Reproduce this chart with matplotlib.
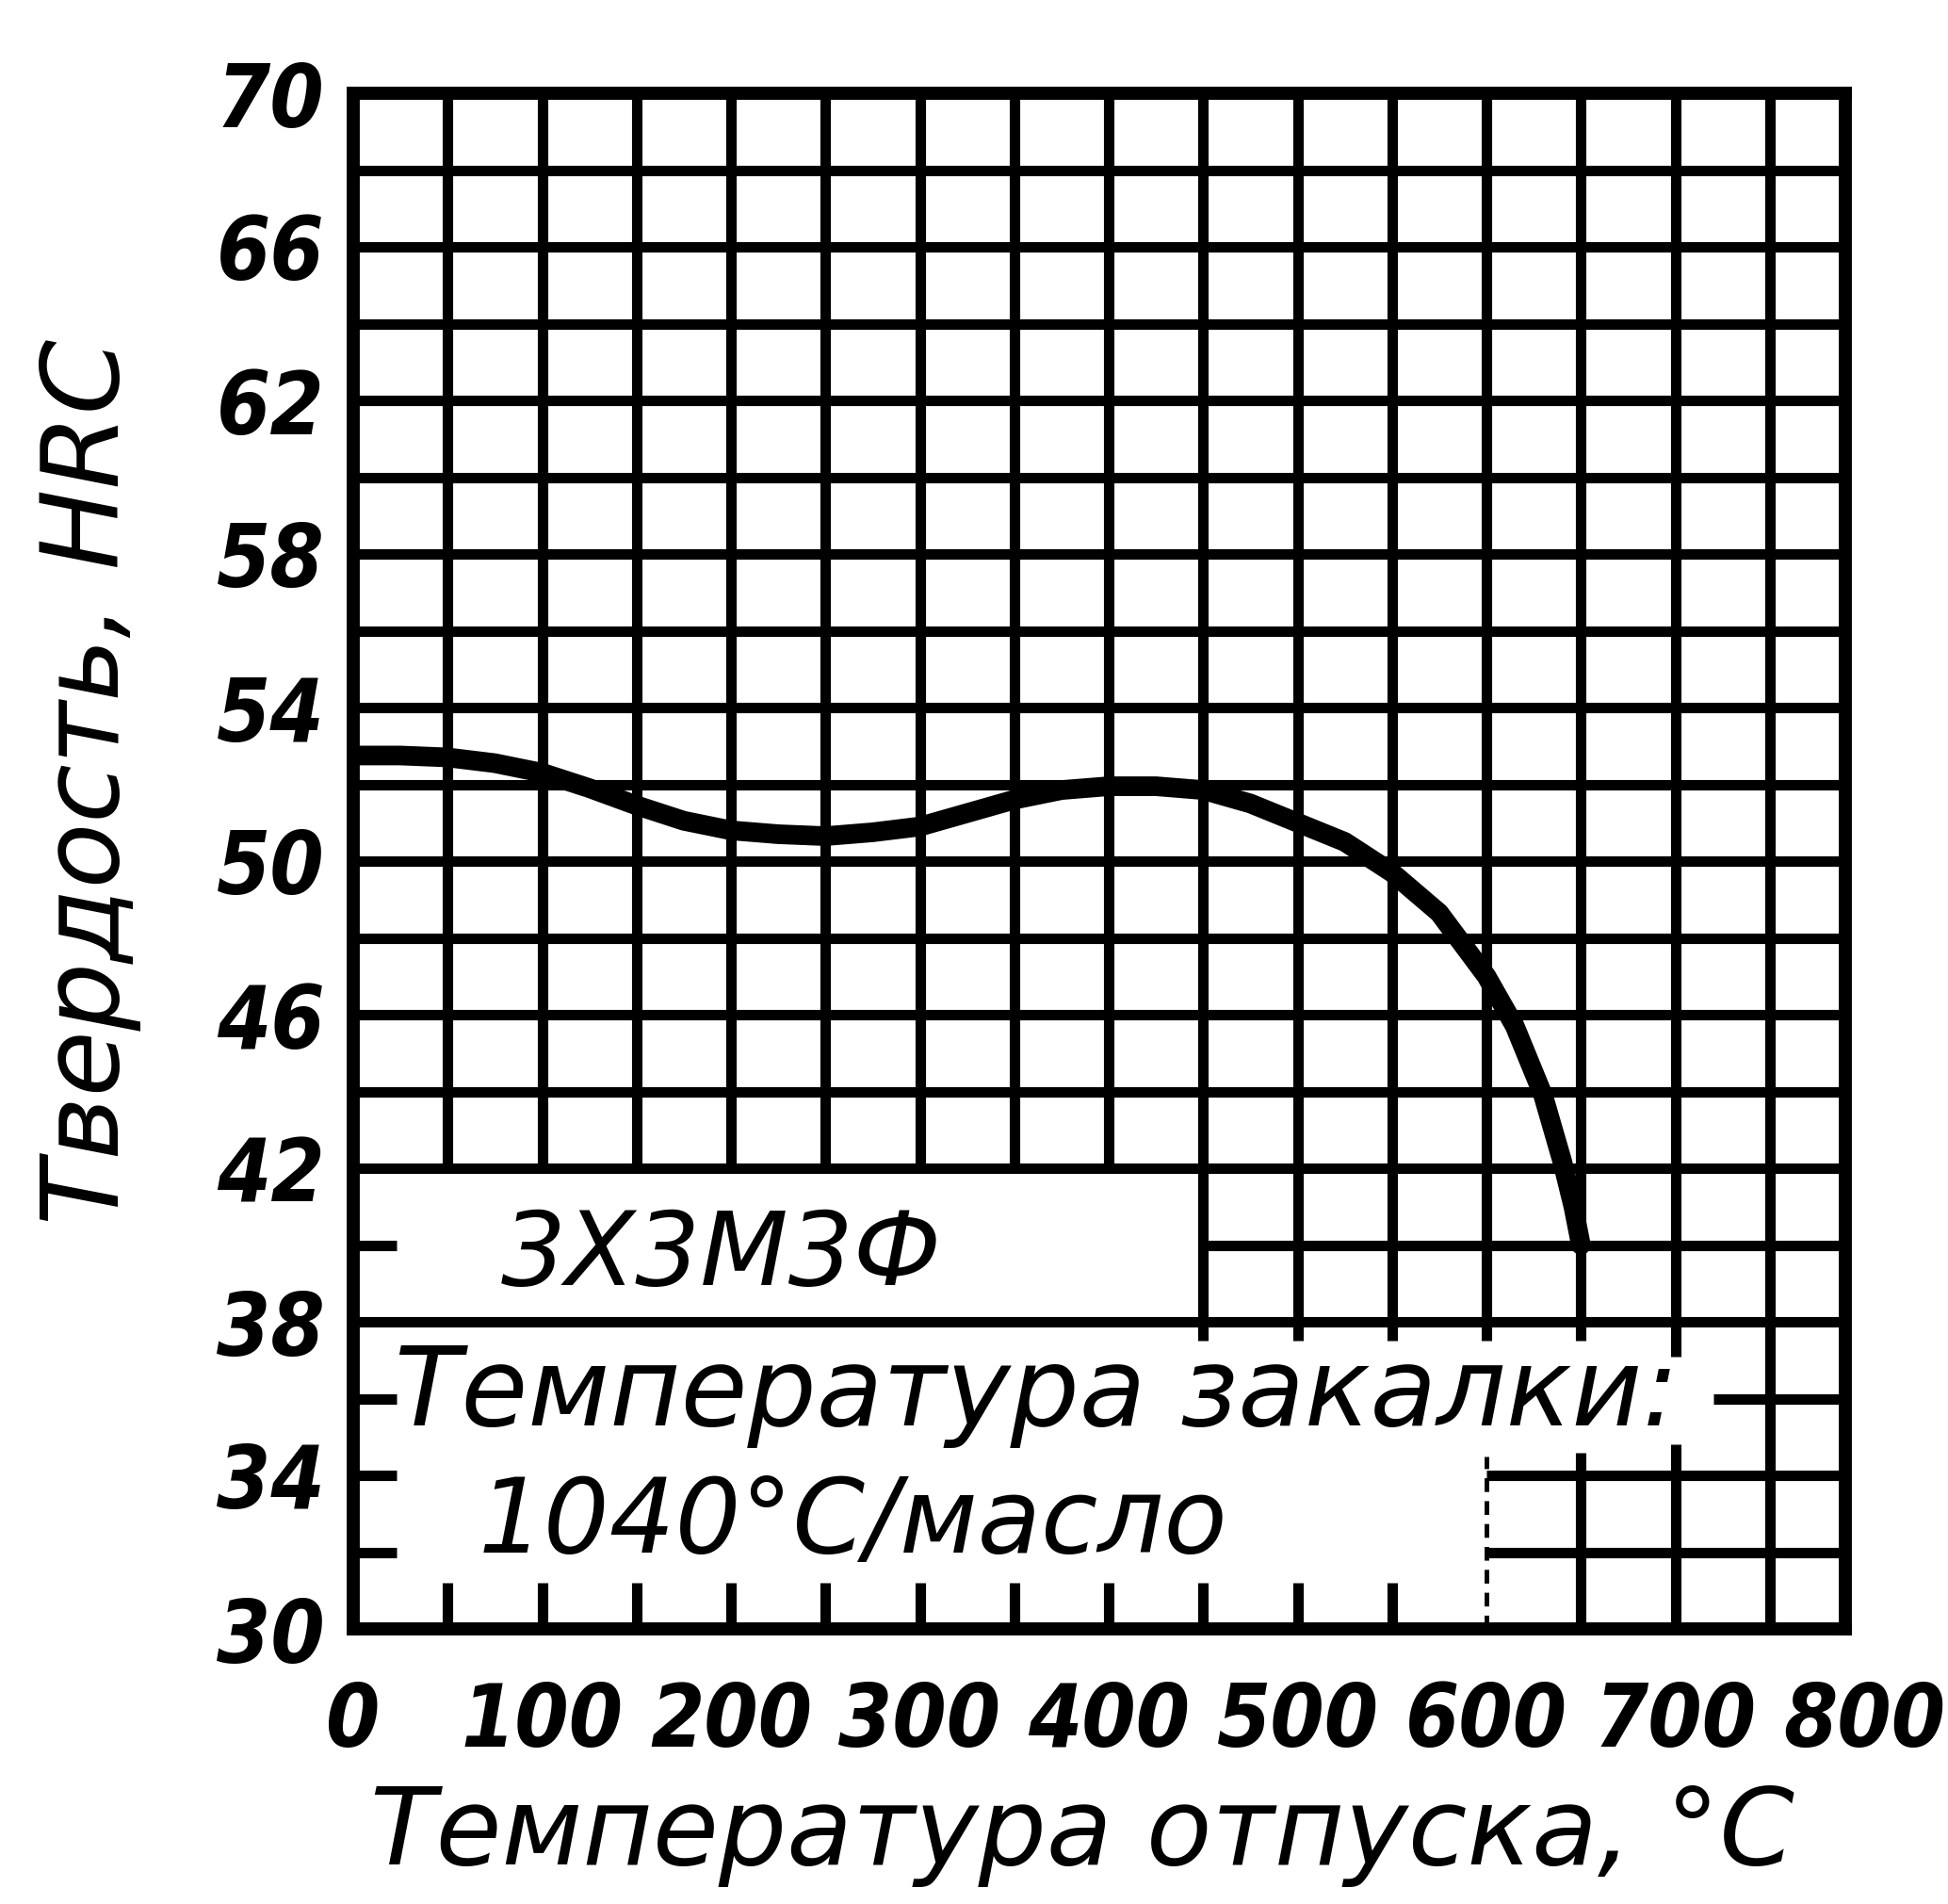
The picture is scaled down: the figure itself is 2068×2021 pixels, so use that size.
import matplotlib
matplotlib.use("Agg")
import matplotlib.pyplot as plt
import matplotlib.transforms as mtransforms
from matplotlib import font_manager
import numpy as np

# tempering temperature, C  /  hardness, HRC
temper_t = [0, 25, 50, 75, 100, 125, 150, 175, 200, 225, 250, 275, 300, 325, 350,
            375, 400, 425, 450, 475, 500, 525, 550, 575, 600, 615, 630, 640, 646, 650]
hardness = [52.75, 52.75, 52.7, 52.55, 52.3, 51.9, 51.45, 51.05, 50.8, 50.7, 50.65,
            50.75, 50.9, 51.25, 51.6, 51.85, 51.95, 51.95, 51.85, 51.5, 51.0, 50.5,
            49.7, 48.65, 47.0, 45.7, 43.9, 42.2, 41.0, 40.0]

x_tick_values = [0, 100, 200, 300, 400, 500, 600, 700, 800]
y_tick_values = [30, 34, 38, 42, 46, 50, 54, 58, 62, 66, 70]

steel = "3Х3М3Ф"
quench_1 = "Температура закалки:"
quench_2 = "1040°С/масло"
x_title = "Температура отпуска, °С"
y_title = "Твердость, HRC"

X_MAX = 790
grid_lw = 8

# narrow italic digits like the drawing; fall back if no narrow face is installed
fonts = font_manager.fontManager.ttflist
if any(f.name == "Liberation Sans Narrow" for f in fonts):
    num_font = dict(family="Liberation Sans Narrow", style="italic", weight="bold")
    num_size = 74
elif any(f.name == "DejaVu Sans" and f.stretch == "condensed" for f in fonts):
    num_font = dict(family="DejaVu Sans", style="oblique", weight="bold", stretch="condensed")
    num_size = 66
else:
    num_font = dict(family="Roboto", style="italic", weight="bold")
    num_size = 64
txt_font = dict(family="DejaVu Sans", style="oblique")

fig = plt.figure(figsize=(20.68, 20.21), dpi=100)
ax = fig.add_axes([375 / 2068, 1 - 1729 / 2021, 1584 / 2068, 1630 / 2021])
ax.set_xlim(0, X_MAX)
ax.set_ylim(30, 70)

# vertical grid lines, broken where the label block sits
for v in range(50, 751, 50):
    if v < 450:
        segs = [(42, 70), (30, 31.2)]
    elif v in (450, 500, 550):
        segs = [(37.5, 70), (30, 31.2)]
    elif v == 600:
        segs = [(37.5, 70)]
    elif v == 650:
        segs = [(37.5, 70), (30, 34.6)]
    elif v == 700:
        segs = [(37.1, 70), (30, 34.8)]
    else:
        segs = [(30, 70)]
    for lo, hi in segs:
        ax.vlines(v, lo, hi, colors="black", lw=grid_lw, zorder=1)
ax.vlines(600, 30, 34.5, colors="black", lw=3.5, linestyles=(0, (3, 2)), zorder=1)

# horizontal grid lines
for h in range(32, 69, 2):
    if h in (32, 34):
        segs = [(600, X_MAX), (0, 23)]
    elif h == 36:
        segs = [(720, X_MAX), (0, 23)]
    elif h == 40:
        segs = [(450, X_MAX), (0, 23)]
    else:
        segs = [(0, X_MAX)]
    for lo, hi in segs:
        ax.hlines(h, lo, hi, colors="black", lw=grid_lw, zorder=1)

ax.plot(temper_t, hardness, color="black", lw=15, solid_capstyle="round", zorder=4)

for s in ax.spines.values():
    s.set_linewidth(10)
    s.set_zorder(5)

ax.set_xticks([])
ax.set_yticks(y_tick_values)
ax.set_yticklabels([str(v) for v in y_tick_values], fontsize=num_size, **num_font)
ax.tick_params(axis="y", length=0, pad=22)

trans = mtransforms.blended_transform_factory(ax.transData, ax.transAxes)
for v in x_tick_values:
    ax.text(v, -0.0767, str(v), transform=trans, ha="center", va="baseline",
            fontsize=num_size, clip_on=False, **num_font)

ax.text(195, 38.95, steel, ha="center", va="baseline", fontsize=78, zorder=6, **txt_font)
ax.text(22, 35.3, quench_1, ha="left", va="baseline", fontsize=83, zorder=6, **txt_font)
ax.text(66, 32.0, quench_2, ha="left", va="baseline", fontsize=79, zorder=6, **txt_font)

fig.text(1149 / 2068, 1 - 1979 / 2021, x_title, ha="center", va="baseline",
         fontsize=82, **txt_font)
fig.text(95 / 2068, 1 - 830 / 2021, y_title, ha="center", va="center",
         rotation=90, fontsize=82, **txt_font)

fig.savefig("out.png", dpi=100, facecolor="white")
